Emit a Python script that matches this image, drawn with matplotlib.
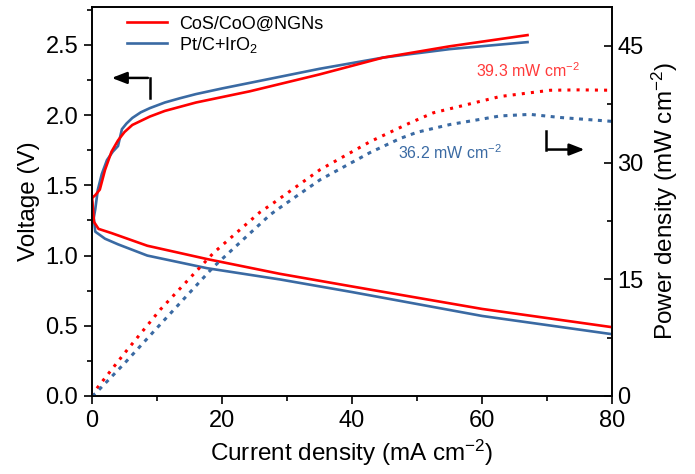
import matplotlib
matplotlib.use('Agg')
import matplotlib.pyplot as plt
from matplotlib.ticker import MultipleLocator, FormatStrFormatter

plt.rcParams['font.family'] = ['Liberation Sans', 'DejaVu Sans']
plt.rcParams['mathtext.fontset'] = 'custom'
plt.rcParams['mathtext.rm'] = 'Liberation Sans'
plt.rcParams['mathtext.it'] = 'Liberation Sans:italic'

# charge curves (voltage)
cos_chg_i = [0, 0.5, 1.2, 2, 3, 4, 5, 6.2, 8.9, 11.2, 16, 24.3, 35, 44.8, 55, 67]
cos_chg_v = [1.41, 1.43, 1.47, 1.61, 1.74, 1.82, 1.88, 1.93, 1.99, 2.03, 2.09, 2.17, 2.29, 2.41, 2.49, 2.57]
pt_chg_i = [0.2, 0.5, 0.9, 1.5, 2.3, 3.2, 4.0, 4.3, 4.6, 5.3, 6.2, 7.5, 8.9, 11.2, 13.5, 16, 20, 24.3, 35, 44.8, 55, 67]
pt_chg_v = [1.25, 1.33, 1.47, 1.58, 1.68, 1.74, 1.78, 1.84, 1.90, 1.94, 1.98, 2.02, 2.05, 2.09, 2.12, 2.15, 2.19, 2.23, 2.33, 2.41, 2.47, 2.52]

# discharge curves (voltage)
cos_dis_i = [0, 0.3, 1, 3, 8.5, 17.7, 28.9, 40, 50, 60, 70, 80]
cos_dis_v = [1.42, 1.24, 1.19, 1.16, 1.07, 0.975, 0.87, 0.78, 0.70, 0.62, 0.555, 0.49]
pt_dis_i = [0, 0.5, 2, 4, 8.5, 17.7, 28.9, 40, 50, 60, 70, 80]
pt_dis_v = [1.38, 1.17, 1.12, 1.08, 1.00, 0.91, 0.83, 0.74, 0.655, 0.57, 0.505, 0.44]

# power density
cos_pow_i = [0, 0.2, 5, 10.5, 18.7, 25.8, 27.9, 35.1, 42.8, 48.9, 52.5, 62.8, 70.5, 75, 80]
cos_pow_p = [0, 0.4, 5.5, 11.1, 18.4, 23.6, 24.8, 29.1, 32.7, 35.1, 36.4, 38.5, 39.3, 39.35, 39.3]
pt_pow_i = [0, 0.5, 5, 10, 18.7, 27.4, 28.9, 35.1, 42.8, 47.4, 50, 55.1, 62.8, 67.4, 72, 80]
pt_pow_p = [0, 0.3, 4.2, 8.75, 16.6, 23.3, 24.2, 27.8, 31.3, 33.1, 33.9, 34.9, 36.0, 36.2, 35.8, 35.3]

red = '#ff0000'
blue = '#3a6aa3'

fig = plt.figure(figsize=(6.95, 4.74), dpi=100)
ax = fig.add_axes([0.1324, 0.1646, 0.7482, 0.8206])
ax2 = ax.twinx()

ax.plot(cos_chg_i, cos_chg_v, color=red, lw=1.9, label='CoS/CoO@NGNs', zorder=3)
ax.plot(pt_chg_i, pt_chg_v, color=blue, lw=1.9, label='Pt/C+IrO$_2$', zorder=2)
ax.plot(cos_dis_i, cos_dis_v, color=red, lw=1.9, zorder=3)
ax.plot(pt_dis_i, pt_dis_v, color=blue, lw=1.9, zorder=2)

ax2.plot(cos_pow_i, cos_pow_p, color=red, lw=2.2, dashes=(1, 2))
ax2.plot(pt_pow_i, pt_pow_p, color=blue, lw=2.2, dashes=(1.3, 1.8))

ax.set_xlim(0, 80)
ax.set_ylim(0, 2.77)
ax2.set_ylim(0, 50)

ax.xaxis.set_major_locator(MultipleLocator(20))
ax.xaxis.set_minor_locator(MultipleLocator(10))
ax.yaxis.set_major_locator(MultipleLocator(0.5))
ax.yaxis.set_minor_locator(MultipleLocator(0.25))
ax.yaxis.set_major_formatter(FormatStrFormatter('%.1f'))
ax2.yaxis.set_major_locator(MultipleLocator(15))
ax2.yaxis.set_minor_locator(MultipleLocator(7.5))

ax.tick_params(axis='both', which='major', direction='out', length=6, width=1.2, labelsize=17, pad=4)
ax.tick_params(axis='both', which='minor', direction='out', length=3.5, width=1.2)
ax2.tick_params(axis='y', which='major', direction='in', length=6, width=1.2, labelsize=17, pad=4)
ax2.tick_params(axis='y', which='minor', direction='in', length=3.5, width=1.2)
for a in (ax, ax2):
    for s in a.spines.values():
        s.set_linewidth(1.2)

ax.set_xlabel('Current density (mA cm$^{-2}$)', fontsize=17.5, labelpad=4)
ax.set_ylabel('Voltage (V)', fontsize=17.5, labelpad=4)
ax2.set_ylabel('Power density (mW cm$^{-2}$)', fontsize=17.5, labelpad=4)

leg = ax.legend(loc='upper left', bbox_to_anchor=(0.036, 1.02), frameon=False,
                fontsize=13, handlelength=2.2, handletextpad=0.7, labelspacing=0.12)

# peak annotations
ax2.text(59.1, 41.8, '39.3 mW cm$^{-2}$', color='#ff3a3a', fontsize=11.5, va='center')
ax2.text(47.1, 31.3, '36.2 mW cm$^{-2}$', color=blue, fontsize=11.5, va='center')

# axis-indicating arrows
ax.plot([8.9, 8.9], [2.12, 2.265], color='black', lw=1.8)
ax.annotate('', xy=(2.6, 2.265), xytext=(9.03, 2.265),
            arrowprops=dict(arrowstyle='-|>,head_length=0.9,head_width=0.35', color='black', lw=1.8))
ax.plot([69.8, 69.8], [1.887, 1.755], color='black', lw=1.8)
ax.annotate('', xy=(76.2, 1.755), xytext=(69.67, 1.755),
            arrowprops=dict(arrowstyle='-|>,head_length=0.9,head_width=0.35', color='black', lw=1.8))

fig.savefig('out.png', dpi=100)
